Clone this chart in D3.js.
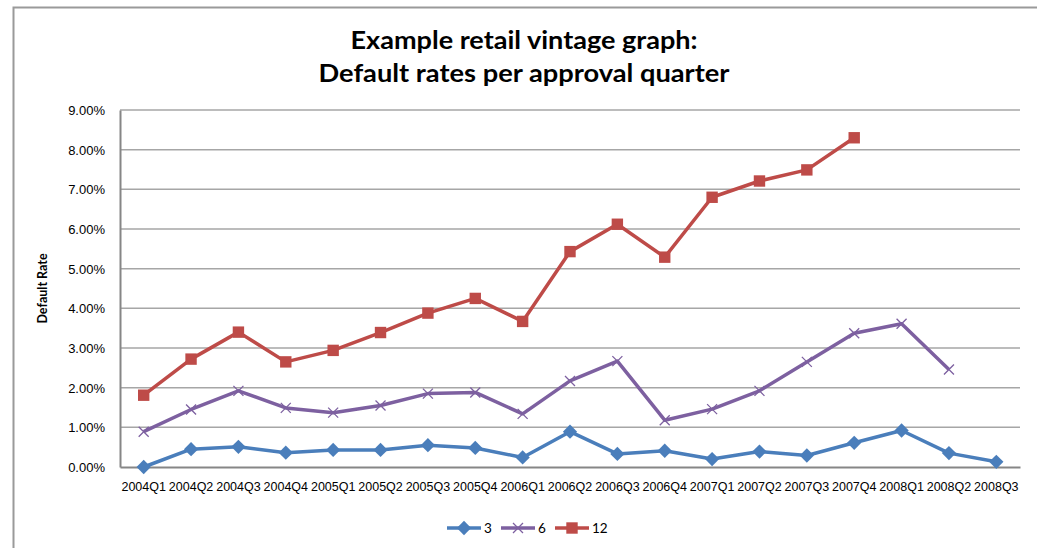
<!DOCTYPE html>
<html>
<head>
<meta charset="utf-8">
<script src="https://cdn.jsdelivr.net/npm/d3@7"></script>
<style>
  html, body { margin: 0; padding: 0; background: #fff; }
  svg { display: block; font-family: Lato, "Open Sans", sans-serif; }
  .grid line { stroke: #a6a6a6; stroke-width: 1.5; }
  .tick text { fill: #000; }
</style>
</head>
<body>
<svg id="chart" width="1037" height="548"></svg>
<script>
const quarters = ['2004Q1', '2004Q2', '2004Q3', '2004Q4', '2005Q1', '2005Q2', '2005Q3', '2005Q4',
  '2006Q1', '2006Q2', '2006Q3', '2006Q4', '2007Q1', '2007Q2', '2007Q3', '2007Q4',
  '2008Q1', '2008Q2', '2008Q3'];

// default rates in percent, null = not yet observed
const rates3 = [0.00, 0.45, 0.51, 0.36, 0.43, 0.43, 0.55, 0.48, 0.24, 0.89, 0.33, 0.41,
  0.20, 0.39, 0.29, 0.61, 0.92, 0.35, 0.13];
const rates6 = [0.89, 1.45, 1.92, 1.49, 1.37, 1.55, 1.85, 1.88, 1.34, 2.17, 2.67, 1.18,
  1.46, 1.92, 2.65, 3.37, 3.61, 2.46, null];
const rates12 = [1.81, 2.72, 3.40, 2.65, 2.94, 3.39, 3.88, 4.25, 3.67, 5.43, 6.12, 5.29,
  6.80, 7.21, 7.49, 8.30, null, null, null];

const seriesNames = ['3', '6', '12'];
const yTicks = [0, 1, 2, 3, 4, 5, 6, 7, 8, 9];

const series = [
  { name: seriesNames[0], values: rates3, color: '#4a7ebb', marker: 'diamond' },
  { name: seriesNames[1], values: rates6, color: '#7d60a0', marker: 'x' },
  { name: seriesNames[2], values: rates12, color: '#be4b48', marker: 'square' }
];

const svg = d3.select('#chart');
const plot = { left: 120, right: 1020, top: 110, bottom: 467 };

// outer chart frame (only left and top edges visible)
svg.append('path')
  .attr('d', 'M13.5,548 L13.5,7.5 L1037,7.5')
  .attr('fill', 'none')
  .attr('stroke', '#9a9a9a')
  .attr('stroke-width', 2);

const title = svg.append('text')
  .attr('text-anchor', 'middle')
  .attr('font-weight', 'bold')
  .attr('font-size', 25);
title.append('tspan').attr('x', 524).attr('y', 49)
  .attr('textLength', 347).attr('lengthAdjust', 'spacingAndGlyphs')
  .text('Example retail vintage graph:');
title.append('tspan').attr('x', 524).attr('y', 82)
  .attr('textLength', 411).attr('lengthAdjust', 'spacingAndGlyphs')
  .text('Default rates per approval quarter');

const x = d3.scaleBand()
  .domain(quarters)
  .range([plot.left, plot.right]);

const y = d3.scaleLinear()
  .domain([0, 9])
  .range([plot.bottom, plot.top]);

// gridlines
svg.append('g')
  .attr('class', 'grid')
  .selectAll('line')
  .data(yTicks.slice(1))
  .join('line')
  .attr('x1', plot.left)
  .attr('x2', plot.right)
  .attr('y1', d => y(d))
  .attr('y2', d => y(d));

const yAxis = svg.append('g')
  .attr('transform', `translate(${plot.left},0)`)
  .call(d3.axisLeft(y).tickValues(yTicks).tickSize(0).tickPadding(15)
    .tickFormat(d => d.toFixed(2) + '%'));
yAxis.select('.domain').attr('stroke', '#868686').attr('stroke-width', 2);
yAxis.selectAll('text').attr('dy', '0.35em').style('font-size', '13px');

const xAxis = svg.append('g')
  .attr('transform', `translate(0,${plot.bottom})`)
  .call(d3.axisBottom(x).tickSize(0).tickPadding(15));
xAxis.select('.domain').attr('stroke', '#868686').attr('stroke-width', 2);
xAxis.selectAll('text').style('font-size', '12.5px');

svg.append('text')
  .attr('transform', `translate(47,${(plot.top + plot.bottom) / 2}) rotate(-90)`)
  .attr('text-anchor', 'middle')
  .attr('font-weight', 'bold')
  .attr('font-size', 12.5)
  .text('Default Rate');

const lineFunction = d3.line()
  .defined(d => d.v !== null)
  .x(d => x(d.q) + x.bandwidth() / 2)
  .y(d => y(d.v));

const markerPath = {
  diamond: d3.symbol(d3.symbolDiamond2, 130)(),
  square: d3.symbol(d3.symbolSquare, 130)(),
  x: 'M-5,-5L5,5M-5,5L5,-5'
};

function drawMarker(g, s) {
  if (s.marker === 'x') {
    g.append('path').attr('d', markerPath.x)
      .attr('fill', 'none').attr('stroke', s.color).attr('stroke-width', 1.3);
  } else {
    g.append('path').attr('d', markerPath[s.marker]).attr('fill', s.color);
  }
}

series.forEach(s => {
  const pts = quarters.map((q, i) => ({ q: q, v: s.values[i] }));
  svg.append('path')
    .attr('d', lineFunction(pts))
    .attr('fill', 'none')
    .attr('stroke', s.color)
    .attr('stroke-width', 3.5)
    .attr('stroke-linejoin', 'round');

  svg.append('g')
    .selectAll('g')
    .data(pts.filter(d => d.v !== null))
    .join('g')
    .attr('transform', d => `translate(${x(d.q) + x.bandwidth() / 2},${y(d.v)})`)
    .each(function () { drawMarker(d3.select(this), s); });
});

// legend
const legendX = [447, 501, 555];
const legend = svg.append('g');
series.forEach((s, i) => {
  const g = legend.append('g').attr('transform', `translate(${legendX[i]},528)`);
  g.append('line')
    .attr('x1', 0).attr('x2', 34)
    .attr('stroke', s.color).attr('stroke-width', 3.5);
  drawMarker(g.append('g').attr('transform', 'translate(17,0)'), s);
  g.append('text')
    .attr('x', 37).attr('dy', '0.35em')
    .attr('font-size', 13.5)
    .text(s.name);
});
</script>
</body>
</html>
